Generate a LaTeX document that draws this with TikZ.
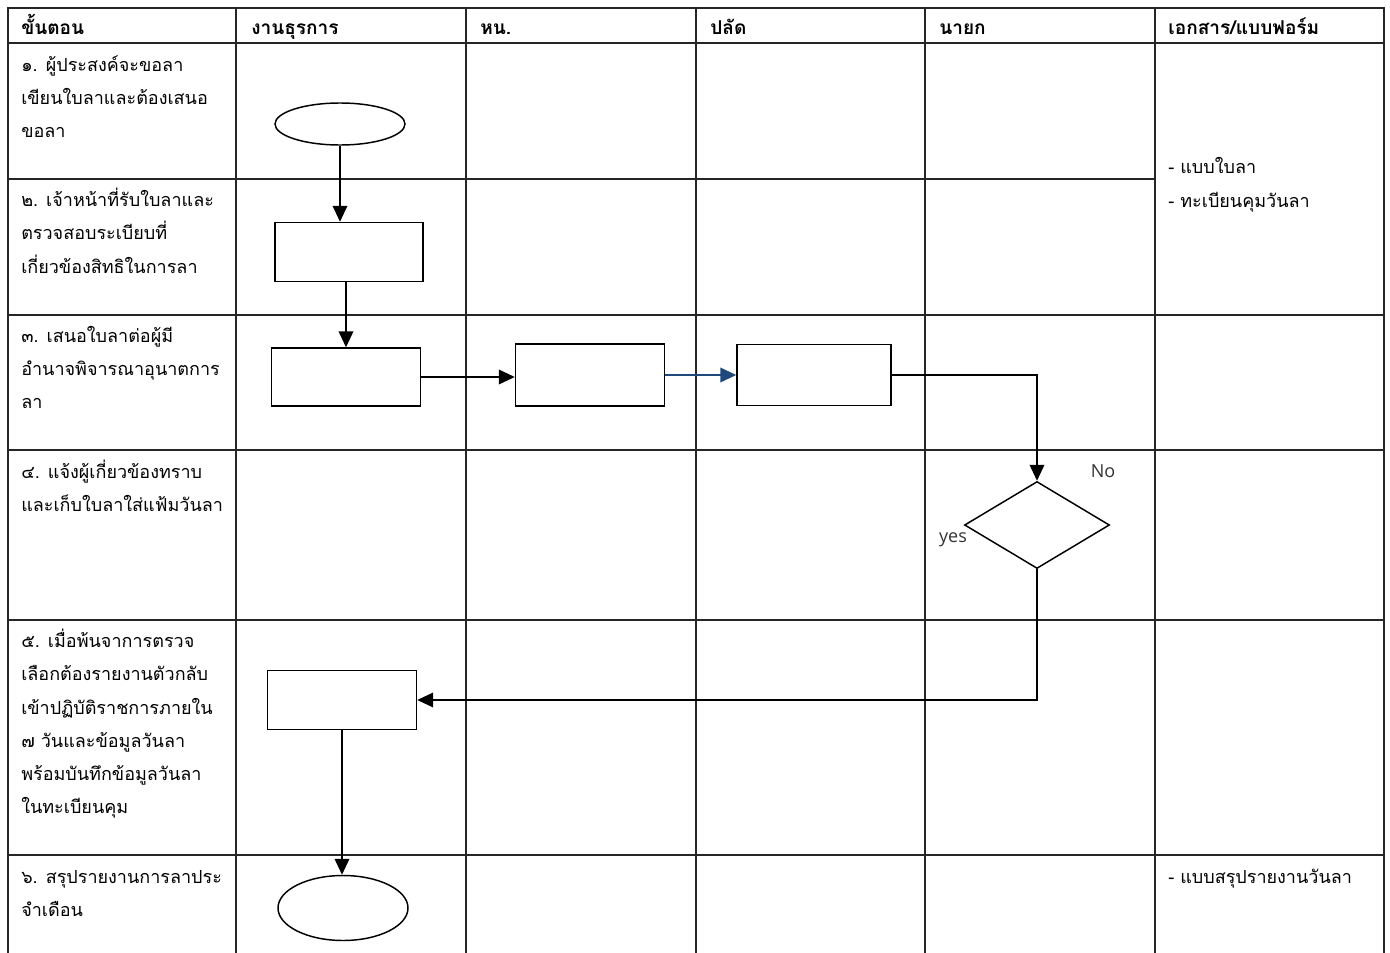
\documentclass[tikz,border=0pt]{standalone}
\usepackage{fontspec}
\setmainfont{Loma}[Script=Thai]
\newfontfamily\latinfont{Open Sans}
\usetikzlibrary{shapes.geometric,arrows.meta}
\definecolor{flowblue}{RGB}{31,73,125}
\tikzset{
  grid/.style={line width=1pt, draw=black!85},
  cell/.style={anchor=base west, inner sep=0pt, font=\fontsize{13.5}{16}\selectfont},
  head/.style={anchor=base west, inner sep=0pt, font=\fontsize{14.3}{17}\selectfont\bfseries},
  proc/.style={draw, line width=1.1pt, rectangle, inner sep=0pt},
  term/.style={draw, line width=1.1pt, ellipse, inner sep=0pt},
  deci/.style={draw, line width=1.1pt, diamond, inner sep=0pt},
  flow/.style={line width=1.2pt, -{Triangle[length=12pt,width=11pt]}},
  lbl/.style={inner sep=0pt, font=\latinfont\fontsize{13.5}{16}\selectfont, text=black!80}
}
\begin{document}
\begin{tikzpicture}[x=0.75pt,y=-0.75pt]
\useasboundingbox (0,0) rectangle (1390,953);
% table
\draw[grid] (8,953) -- (8,8) -- (1384,8) -- (1384,953);
\draw[grid] (8,43) -- (1384,43);
\draw[grid] (8,179) -- (1155,179);
\foreach \yy in {315,450,620,855} \draw[grid] (8,\yy) -- (1384,\yy);
\foreach \xx in {236,466,696,925,1155} \draw[grid] (\xx,8) -- (\xx,953);
% headers
\node[head] (h1) at (21,35) {ขั้นตอน};
\node[head] (h2) at (251,35) {งานธุรการ};
\node[head] (h3) at (480,35) {หน.};
\node[head] (h4) at (710,35) {ปลัด};
\node[head] (h5) at (939,35) {นายก};
\node[head] (h6) at (1168,35) {เอกสาร/แบบฟอร์ม};
% step texts
\node[cell] (s1a) at (21,71) {๑. ผู้ประสงค์จะขอลา};
\node[cell] (s1b) at (21,104) {เขียนใบลาและต้องเสนอ};
\node[cell] (s1c) at (21,137) {ขอลา};
\node[cell] (s2a) at (21,206) {๒. เจ้าหน้าที่รับใบลาและ};
\node[cell] (s2b) at (21,239) {ตรวจสอบระเบียบที่};
\node[cell] (s2c) at (21,273) {เกี่ยวข้องสิทธิในการลา};
\node[cell] (s3a) at (21,342) {๓. เสนอใบลาต่อผู้มี};
\node[cell] (s3b) at (21,375) {อำนาจพิจารณาอุนาตการ};
\node[cell] (s3c) at (21,408) {ลา};
\node[cell] (s4a) at (21,478) {๔. แจ้งผู้เกี่ยวข้องทราบ};
\node[cell] (s4b) at (21,511) {และเก็บใบลาใส่แฟ้มวันลา};
\node[cell] (s5a) at (21,647) {๕. เมื่อพ้นจาการตรวจ};
\node[cell] (s5b) at (21,680) {เลือกต้องรายงานตัวกลับ};
\node[cell] (s5c) at (21,714) {เข้าปฏิบัติราชการภายใน};
\node[cell] (s5d) at (21,747) {๗ วันและข้อมูลวันลา};
\node[cell] (s5e) at (21,780) {พร้อมบันทึกข้อมูลวันลา};
\node[cell] (s5f) at (21,813) {ในทะเบียนคุม};
\node[cell] (s6a) at (21,883) {๖. สรุปรายงานการลาประ};
\node[cell] (s6b) at (21,916) {จำเดือน};
% documents
\node[cell] (d1) at (1168,173) {- แบบใบลา};
\node[cell] (d2) at (1168,207) {- ทะเบียนคุมวันลา};
\node[cell] (d3) at (1168,883) {- แบบสรุปรายงานวันลา};
% shapes
\node[term, minimum width=97.5pt, minimum height=31.5pt] (e1) at (340,124) {};
\node[proc, minimum width=111pt, minimum height=44.25pt] (r2) at (349,252) {};
\node[proc, minimum width=111.75pt, minimum height=43.5pt] (r3) at (346,377) {};
\node[proc, minimum width=111.75pt, minimum height=46.5pt] (r4) at (590,375) {};
\node[proc, minimum width=115.5pt, minimum height=45.75pt] (r5) at (814,375) {};
\node[deci, minimum width=108.75pt, minimum height=65.25pt] (dd) at (1037,525) {};
\node[proc, minimum width=111.75pt, minimum height=44.25pt] (r6) at (342,700) {};
\node[term, minimum width=97.5pt, minimum height=48.75pt] (e2) at (343,908) {};
\node[lbl] (no) at (1103,471) {No};
\node[lbl] (yes) at (953,540) {yes};
% connectors
\draw[flow] (e1.south) -- (e1.south |- r2.north);
\draw[flow] (r3.north |- r2.south) -- (r3.north);
\draw[flow] (r3.east) -- (r3.east -| r4.west);
\draw[flow, draw=flowblue, fill=flowblue] (r4.east) -- (r5.west);
\draw[flow] (r5.east) -| (dd.north);
\draw[flow] (dd.south) |- (r6.east);
\draw[flow] (r6.south) -- (r6.south |- e2.north);
\end{tikzpicture}
\end{document}
